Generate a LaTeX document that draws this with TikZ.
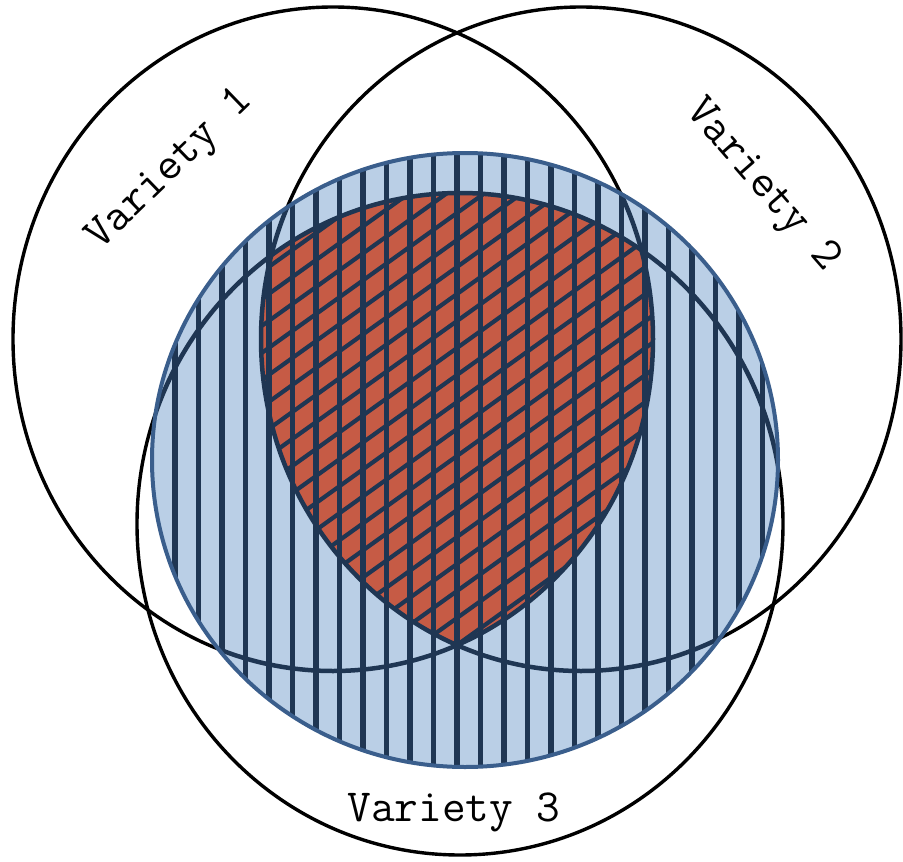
\documentclass[tikz,border=0pt]{standalone}
\usepackage{fontspec}
\begin{document}
\definecolor{bluefill}{HTML}{BACFE6}
\definecolor{blueedge}{HTML}{3A5E8C}
\definecolor{navy}{HTML}{1F3653}
\definecolor{redfill}{HTML}{C65B45}
\begin{tikzpicture}[x=1pt,y=-1pt,
  outline/.style={draw=black,line width=3.4pt},
  innerarc/.style={draw=navy,line width=4.5pt},
  stripe/.style={draw=navy,line width=5.5pt},
  hatchline/.style={draw=navy,line width=4.2pt},
  varlabel/.style={font=\fontsize{46}{52}\selectfont\ttfamily,inner sep=0pt}]
\useasboundingbox (0,0) rectangle (903,862);
\coordinate (c1) at (333,339);
\coordinate (c2) at (581,339);
\coordinate (c3) at (460,524);
\coordinate (cb) at (465,460);
% black outlines of the three varieties
\draw[outline] (c1) ellipse [x radius=320pt, y radius=332pt];
\draw[outline] (c2) ellipse [x radius=320pt, y radius=332pt];
\draw[outline] (c3) ellipse [x radius=323pt, y radius=331pt];
% blue disc
\fill[bluefill] (cb) ellipse [x radius=313pt, y radius=307pt];
\begin{scope}
  \clip (cb) ellipse [x radius=313pt, y radius=307pt];
  \begin{scope}
    \clip (c1) ellipse [x radius=320pt, y radius=332pt];
    \clip (c2) ellipse [x radius=320pt, y radius=332pt];
    \clip (c3) ellipse [x radius=323pt, y radius=331pt];
    \fill[redfill] (0,0) rectangle (903,862);
    \foreach \k in {0,...,34}
      \draw[hatchline] (150,{190+27*\k}) -- ++(600,-430);
  \end{scope}
  \foreach \k in {-13,...,14}
    \draw[stripe] ({457+23.5*\k},140) -- ++(0,640);
  \draw[innerarc] (c1) ellipse [x radius=320pt, y radius=332pt];
  \draw[innerarc] (c2) ellipse [x radius=320pt, y radius=332pt];
  \draw[innerarc] (c3) ellipse [x radius=323pt, y radius=331pt];
\end{scope}
\draw[draw=blueedge,line width=4pt] (cb) ellipse [x radius=313pt, y radius=307pt];
% labels
\node[varlabel,rotate=44] (v1) at (171,170) {Variety 1};
\node[varlabel,rotate=-49] (v2) at (762,186) {Variety 2};
\node[varlabel,anchor=base] (v3) at (454,821) {Variety 3};
\end{tikzpicture}
\end{document}
